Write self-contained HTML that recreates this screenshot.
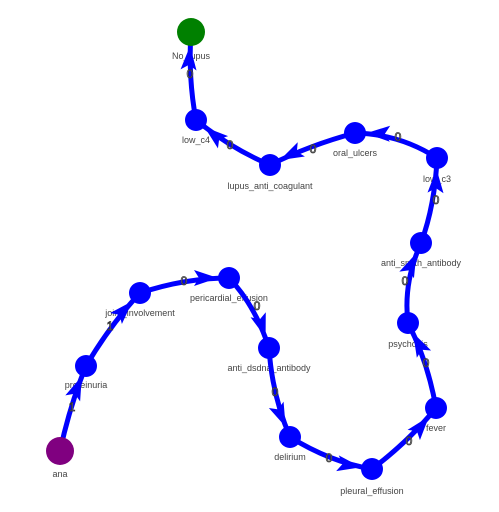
<!DOCTYPE html>
<html><head><meta charset="utf-8"><style>
html,body{margin:0;padding:0;background:#fff;}
svg{display:block}
.nl{font-family:"Liberation Sans",sans-serif;font-size:9px;fill:#444;text-anchor:middle}
.el{font-family:"Liberation Sans",sans-serif;font-size:12px;fill:#fff;fill-opacity:0.5;stroke:#333;stroke-width:0.8;text-anchor:middle;dominant-baseline:middle}
</style></head><body>
<svg width="499" height="512" viewBox="0 0 499 512">
<defs>
<marker id="a" markerUnits="userSpaceOnUse" markerWidth="80" markerHeight="40" refX="40" refY="20" orient="auto" viewBox="0 0 80 40">
<path d="M5,12 L29,20 L5,28 L10,20 z" fill="#0000ff"/>
</marker>
<marker id="b" markerUnits="userSpaceOnUse" markerWidth="80" markerHeight="40" refX="40" refY="20" orient="auto" viewBox="0 0 80 40">
<path d="M2,12 L26,20 L2,28 L7,20 z" fill="#0000ff"/>
</marker>
</defs>
<g class="nl">
<text x="60" y="477">ana</text>
<text x="86" y="388">proteinuria</text>
<text x="140" y="316">joint_involvement</text>
<text x="229" y="301">pericardial_effusion</text>
<text x="269" y="371">anti_dsdna_antibody</text>
<text x="290" y="460">delirium</text>
<text x="372" y="494">pleural_effusion</text>
<text x="436" y="431">fever</text>
<text x="408" y="347">psychosis</text>
<text x="421" y="266">anti_smith_antibody</text>
<text x="437" y="182">low_c3</text>
<text x="355" y="156">oral_ulcers</text>
<text x="270" y="189">lupus_anti_coagulant</text>
<text x="196" y="143">low_c4</text>
<text x="191" y="59">No_lupus</text>
</g>
<g stroke="#0000ff" stroke-width="5" fill="none">
<path d="M60,451 Q70,405 86,366" marker-end="url(#a)"/>
<path d="M86,366 Q110,325 140,293" marker-end="url(#a)"/>
<path d="M140,293 Q185,278 229,278" marker-end="url(#a)"/>
<path d="M229,278 Q255,305 269,348" marker-end="url(#a)"/>
<path d="M269,348 Q272,395 290,437" marker-end="url(#a)"/>
<path d="M290,437 Q330,462 372,469" marker-end="url(#a)"/>
<path d="M372,469 Q408,442 436,408" marker-end="url(#a)"/>
<path d="M436,408 Q428,362 408,323" marker-end="url(#a)"/>
<path d="M408,323 Q403,283 421,243" marker-end="url(#a)"/>
<path d="M421,243 Q435,205 437,158" marker-end="url(#a)"/>
<path d="M437,158 Q400,134 355,133" marker-end="url(#a)"/>
<path d="M355,133 Q310,145 270,165" marker-end="url(#a)"/>
<path d="M270,165 Q230,148 196,120" marker-end="url(#a)"/>
<path d="M196,120 Q188,78 191,32" marker-end="url(#b)"/>
</g>
<g class="el">
<text x="72" y="408">1</text>
<text x="110" y="327">1</text>
<text x="184" y="282">0</text>
<text x="257" y="307">0</text>
<text x="275" y="393">0</text>
<text x="329" y="459">0</text>
<text x="409" y="442">0</text>
<text x="426" y="364">0</text>
<text x="405" y="282">0</text>
<text x="436" y="201">0</text>
<text x="398" y="138">0</text>
<text x="313" y="150">0</text>
<text x="230" y="146">0</text>
<text x="190" y="75">0</text>
</g>
<g fill="#0000ff">
<circle cx="86" cy="366" r="11"/>
<circle cx="140" cy="293" r="11"/>
<circle cx="229" cy="278" r="11"/>
<circle cx="269" cy="348" r="11"/>
<circle cx="290" cy="437" r="11"/>
<circle cx="372" cy="469" r="11"/>
<circle cx="436" cy="408" r="11"/>
<circle cx="408" cy="323" r="11"/>
<circle cx="421" cy="243" r="11"/>
<circle cx="437" cy="158" r="11"/>
<circle cx="355" cy="133" r="11"/>
<circle cx="270" cy="165" r="11"/>
<circle cx="196" cy="120" r="11"/>
</g>
<circle cx="60" cy="451" r="14" fill="#800080"/>
<circle cx="191" cy="32" r="14" fill="#008000"/>
</svg>
</body></html>
